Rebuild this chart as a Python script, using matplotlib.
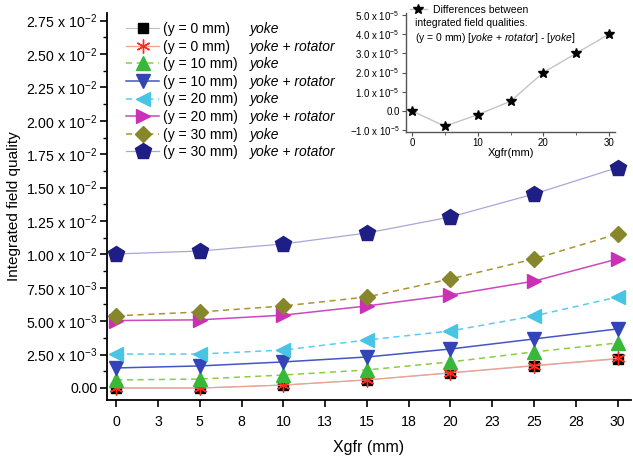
import matplotlib
matplotlib.use("Agg")
import matplotlib.pyplot as plt
from matplotlib.ticker import FixedLocator, FuncFormatter, MultipleLocator
import numpy as np

plt.rcParams["font.family"] = ["Liberation Sans", "DejaVu Sans"]
plt.rcParams["mathtext.fontset"] = "custom"
plt.rcParams["mathtext.rm"] = "Liberation Sans"
plt.rcParams["mathtext.it"] = "Liberation Sans:italic"
plt.rcParams["mathtext.bf"] = "Liberation Sans:bold"

# data
xgfr = [0, 5, 10, 15, 20, 25, 30]
y0_yoke = [0.0, 0.0, 0.22e-3, 0.60e-3, 1.12e-3, 1.65e-3, 2.17e-3]
diff_y0 = [0.0, -0.8e-5, -0.2e-5, 0.5e-5, 2.0e-5, 3.0e-5, 4.0e-5]
y0_rot = list(np.add(y0_yoke, diff_y0))
y10_yoke = [0.60e-3, 0.67e-3, 0.97e-3, 1.35e-3, 1.95e-3, 2.70e-3, 3.37e-3]
y10_rot = [1.50e-3, 1.65e-3, 1.95e-3, 2.32e-3, 2.92e-3, 3.67e-3, 4.42e-3]
y20_yoke = [2.54e-3, 2.54e-3, 2.84e-3, 3.59e-3, 4.27e-3, 5.39e-3, 6.81e-3]
y20_rot = [5.05e-3, 5.10e-3, 5.45e-3, 6.14e-3, 6.96e-3, 8.00e-3, 9.66e-3]
y30_yoke = [5.40e-3, 5.69e-3, 6.14e-3, 6.81e-3, 8.16e-3, 9.66e-3, 11.53e-3]
y30_rot = [10.03e-3, 10.25e-3, 10.78e-3, 11.60e-3, 12.80e-3, 14.52e-3, 16.50e-3]

labels_y = ["(y = 0 mm)", "(y = 0 mm)", "(y = 10 mm)", "(y = 10 mm)",
            "(y = 20 mm)", "(y = 20 mm)", "(y = 30 mm)", "(y = 30 mm)"]
labels_kind = ["yoke", "yoke + rotator"] * 4

x_ticks = [0, 2.5, 5, 7.5, 10, 12.5, 15, 17.5, 20, 22.5, 25, 27.5, 30]
x_tick_labels = ["0", "3", "5", "8", "10", "13", "15", "18", "20", "23", "25", "28", "30"]
y_ticks = [i * 2.5e-3 for i in range(12)]

series = [y0_yoke, y0_rot, y10_yoke, y10_rot, y20_yoke, y20_rot, y30_yoke, y30_rot]
styles = [
    dict(marker="s", ms=7, mfc="black", mec="black", color="#b8bfcc", ls="-", lw=0.8),
    dict(marker=(6, 2, 0), ms=10, mfc="#ff2a1a", mec="#ff2a1a", mew=1.0, color="#f2a08e", ls="-", lw=0.9),
    dict(marker="^", ms=9.5, mfc="#38b838", mec="#38b838", color="#8ccc40", ls=(0, (4, 3)), lw=1.1),
    dict(marker="v", ms=9.5, mfc="#3344b8", mec="#3344b8", color="#4455c4", ls="-", lw=1.1),
    dict(marker="<", ms=9.5, mfc="#48c4e4", mec="#48c4e4", color="#5cccee", ls=(0, (4, 3)), lw=1.1),
    dict(marker=">", ms=9.5, mfc="#cc30b4", mec="#cc30b4", color="#cc48bc", ls="-", lw=1.1),
    dict(marker="D", ms=8.5, mfc="#86862a", mec="#86862a", color="#a89434", ls=(0, (4, 3)), lw=1.1),
    dict(marker="p", ms=12, mfc="#1e1e84", mec="#1e1e84", color="#a8a8d8", ls="-", lw=0.9),
]


def main_fmt(v, pos):
    if abs(v) < 1e-12:
        return "0.00"
    if v >= 1e-2 - 1e-12:
        return f"{v * 1e2:.2f} x 10$^{{-2}}$"
    return f"{v * 1e3:.2f} x 10$^{{-3}}$"


def inset_fmt(v, pos):
    if abs(v) < 1e-12:
        return "0.0"
    s = f"{abs(v) * 1e5:.1f} x 10$^{{-5}}$"
    return ("\u2212" + s) if v < 0 else s


W, H = 633, 457
fig = plt.figure(figsize=(W / 100, H / 100), dpi=100)
ax = fig.add_axes([107 / W, 1 - 400 / H, (631 - 107) / W, (400 - 13) / H])

handles = []
for vals, st, lab in zip(series, styles, labels_y):
    h, = ax.plot(xgfr, vals, label=lab, **st)
    handles.append(h)

ax.set_xlim(-0.55, 30.8)
ax.set_ylim(-0.9e-3, 2.807e-2)
ax.xaxis.set_major_locator(FixedLocator(x_ticks))
ax.set_xticklabels(x_tick_labels)
ax.yaxis.set_major_locator(FixedLocator(y_ticks))
ax.yaxis.set_minor_locator(MultipleLocator(1.25e-3))
ax.yaxis.set_major_formatter(FuncFormatter(main_fmt))
for s in ["top", "right"]:
    ax.spines[s].set_visible(False)
for s in ["left", "bottom"]:
    ax.spines[s].set_linewidth(1.3)
ax.tick_params(axis="both", which="major", direction="out", length=5, width=1.2, labelsize=10.2, pad=2)
ax.tick_params(axis="y", which="minor", direction="out", length=3, width=1.0)
ax.tick_params(axis="x", pad=6)
ax.set_xlabel("Xgfr (mm)", fontsize=11.5, labelpad=8)
ax.set_ylabel("Integrated field quality", fontsize=11, labelpad=4)

leg = ax.legend(handles=handles, loc="upper left", bbox_to_anchor=(126 / W, 1 - 22 / H),
                bbox_transform=fig.transFigure, frameon=False, fontsize=10,
                handlelength=2.4, handletextpad=0.25, labelspacing=0.26, borderpad=0, borderaxespad=0)

# inset
ax_in = fig.add_axes([406 / W, 1 - 132 / H, (615 - 406) / W, (132 - 13) / H])
ax_in.set_facecolor("none")
h_in, = ax_in.plot(xgfr, diff_y0, marker="*", ms=7, mfc="black", mec="black", color="#c4c4c4", lw=1.0,
                   label="Differences between")
ax_in.set_xlim(-0.9, 30.9)
ax_in.set_ylim(-1.1e-5, 5.1e-5)
ax_in.xaxis.set_major_locator(MultipleLocator(10))
ax_in.xaxis.set_minor_locator(MultipleLocator(5))
ax_in.yaxis.set_major_locator(MultipleLocator(1e-5))
ax_in.yaxis.set_major_formatter(FuncFormatter(inset_fmt))
for s in ["top", "right"]:
    ax_in.spines[s].set_visible(False)
for s in ["left", "bottom"]:
    ax_in.spines[s].set_color("#555555")
    ax_in.spines[s].set_linewidth(1.0)
ax_in.tick_params(axis="both", which="major", direction="out", length=3, width=0.8, labelsize=7, pad=1.5,
                  color="#555555")
ax_in.tick_params(axis="x", which="minor", direction="out", length=2, width=0.6, color="#555555")
ax_in.set_xlabel("Xgfr(mm)", fontsize=8, labelpad=0)
ax_in.legend(handles=[h_in], loc="upper left", bbox_to_anchor=(410 / W, 1 - 5 / H),
             bbox_transform=fig.transFigure, frameon=False, fontsize=7.5,
             handlelength=1.6, handletextpad=0.6, borderpad=0, borderaxespad=0)
fig.text(415 / W, 1 - 23 / H, "integrated field qualities.", fontsize=7.5, va="center")
fig.text(415 / W, 1 - 38 / H,
         r"(y = 0 mm) [$\mathit{yoke}$ + $\mathit{rotator}$] - [$\mathit{yoke}$]",
         fontsize=7.5, va="center")

# italic column of the main legend, aligned to each row
fig.canvas.draw()
renderer = fig.canvas.get_renderer()
for t, kind in zip(leg.get_texts(), labels_kind):
    bb = t.get_window_extent(renderer)
    fig.text(250 / W, bb.y0 / fig.bbox.height, kind, fontsize=10, style="italic", va="bottom")

fig.savefig("out.png", dpi=100, facecolor="white")
